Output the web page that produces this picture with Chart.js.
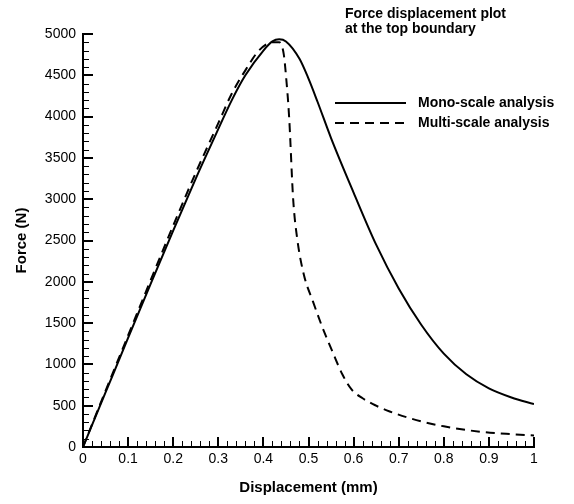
<!DOCTYPE html>
<html>
<head>
<meta charset="utf-8">
<script src="https://cdn.jsdelivr.net/npm/chart.js@4.4.0/dist/chart.umd.min.js"></script>
<style>
  html, body { margin: 0; padding: 0; background: #fff; }
  #wrap { width: 574px; height: 504px; }
</style>
</head>
<body>
<div id="wrap"><canvas id="chart" width="574" height="504"></canvas></div>
<script>
// values
const monoDisp  = [0, 0.05, 0.1, 0.15, 0.2, 0.25, 0.29, 0.33, 0.36, 0.4, 0.42, 0.435, 0.45, 0.48, 0.5, 0.52, 0.55, 0.6, 0.65, 0.7, 0.75, 0.8, 0.85, 0.9, 0.95, 1.0];
const monoForce = [0, 660, 1320, 1975, 2620, 3250, 3730, 4200, 4500, 4800, 4910, 4935, 4910, 4700, 4460, 4180, 3740, 3080, 2450, 1920, 1480, 1130, 880, 710, 600, 520];

const multiDisp  = [0, 0.05, 0.1, 0.15, 0.2, 0.25, 0.3, 0.33, 0.36, 0.39, 0.42, 0.435, 0.445, 0.45, 0.457, 0.466, 0.475, 0.49, 0.51, 0.53, 0.555, 0.575, 0.595, 0.62, 0.65, 0.68, 0.75, 0.8, 0.88, 0.95, 1.0];
const multiForce = [0, 680, 1350, 2020, 2680, 3320, 3920, 4280, 4560, 4800, 4900, 4900, 4760, 4500, 4000, 3000, 2520, 2080, 1760, 1460, 1130, 880, 700, 590, 500, 430, 310, 250, 185, 155, 140];

const seriesNames = ['Mono-scale analysis', 'Multi-scale analysis'];
const titleLines = ['Force displacement plot', 'at the top boundary'];
const xTitle = 'Displacement (mm)';
const yTitle = 'Force (N)';
const xMin = 0, xMax = 1, xStep = 0.1, xMinor = 0.02;
const yMin = 0, yMax = 5000, yStep = 500, yMinor = 100;

const FONT = 'Arial, "Liberation Sans", Helvetica, sans-serif';

function toPoints(xs, ys) {
  return xs.map((x, i) => ({ x: x, y: ys[i] }));
}

// ticks pointing into the plot, major + minor
const innerTicks = {
  id: 'innerTicks',
  afterDatasetsDraw(chart) {
    const { ctx, chartArea: a, scales: { x, y } } = chart;
    ctx.save();
    ctx.strokeStyle = '#000';
    let n = Math.round((xMax - xMin) / xMinor);
    let every = Math.round(xStep / xMinor);
    for (let i = 0; i <= n; i++) {
      const major = i % every === 0;
      const px = Math.round(x.getPixelForValue(xMin + i * xMinor)) + (major ? 0 : 0.5);
      ctx.lineWidth = major ? 2 : 1;
      ctx.beginPath();
      ctx.moveTo(px, a.bottom);
      ctx.lineTo(px, a.bottom - (major ? 10 : 6));
      ctx.stroke();
    }
    n = Math.round((yMax - yMin) / yMinor);
    every = Math.round(yStep / yMinor);
    for (let i = 0; i <= n; i++) {
      const major = i % every === 0;
      const py = Math.round(y.getPixelForValue(yMin + i * yMinor)) + (major ? 0 : 0.5);
      ctx.lineWidth = major ? 2 : 1;
      ctx.beginPath();
      ctx.moveTo(a.left, py);
      ctx.lineTo(a.left + (major ? 10 : 6), py);
      ctx.stroke();
    }
    ctx.restore();
  }
};

// title text and line legend in the upper right corner
const cornerText = {
  id: 'cornerText',
  afterDraw(chart) {
    const ctx = chart.ctx;
    ctx.save();
    ctx.fillStyle = '#000';
    ctx.textBaseline = 'middle';
    ctx.textAlign = 'left';
    ctx.font = 'bold 14px ' + FONT;
    ctx.fillText(titleLines[0], 345, 14);
    ctx.fillText(titleLines[1], 345, 29);

    chart.data.datasets.forEach((ds, i) => {
      const yy = 103 + i * 20;
      ctx.strokeStyle = ds.borderColor;
      ctx.lineWidth = ds.borderWidth;
      ctx.setLineDash(ds.borderDash || []);
      ctx.beginPath();
      ctx.moveTo(335, yy);
      ctx.lineTo(406, yy);
      ctx.stroke();
      ctx.setLineDash([]);
      ctx.font = 'bold 14px ' + FONT;
      ctx.fillText(ds.label, 418, yy);
    });
    ctx.restore();
  }
};

const ctx = document.getElementById('chart');
const chart = new Chart(ctx, {
  type: 'line',
  data: {
    datasets: [
      {
        label: seriesNames[0],
        data: toPoints(monoDisp, monoForce),
        borderColor: '#000',
        borderWidth: 2,
        pointRadius: 0,
        fill: false,
        cubicInterpolationMode: 'monotone'
      },
      {
        label: seriesNames[1],
        data: toPoints(multiDisp, multiForce),
        borderColor: '#000',
        borderWidth: 2,
        borderDash: [9, 6],
        pointRadius: 0,
        fill: false,
        cubicInterpolationMode: 'monotone'
      }
    ]
  },
  options: {
    responsive: false,
    animation: false,
    devicePixelRatio: 1,
    layout: { padding: { top: 34, right: 40, left: 0, bottom: 0 } },
    plugins: {
      legend: { display: false },
      tooltip: { enabled: false },
      title: { display: false }
    },
    scales: {
      x: {
        type: 'linear',
        min: xMin,
        max: xMax,
        afterFit: (s) => { s.height = 57; },
        grid: { display: false, drawTicks: false },
        border: { display: true, color: '#000', width: 2 },
        ticks: {
          stepSize: xStep,
          padding: 4,
          color: '#000',
          maxRotation: 0,
          autoSkip: false,
          font: { family: FONT, size: 14 },
          callback: (v) => String(Number(v.toFixed(1)))
        },
        title: {
          display: true,
          text: xTitle,
          color: '#000',
          padding: { top: 0, bottom: 7 },
          font: { family: FONT, size: 15, weight: 'bold' }
        }
      },
      y: {
        type: 'linear',
        min: yMin,
        max: yMax,
        afterFit: (s) => { s.width = 83; },
        grid: { display: false, drawTicks: false },
        border: { display: true, color: '#000', width: 2 },
        ticks: {
          stepSize: yStep,
          padding: 7,
          color: '#000',
          autoSkip: false,
          font: { family: FONT, size: 14 },
          callback: (v) => String(Math.round(v))
        },
        title: {
          display: true,
          text: yTitle,
          color: '#000',
          padding: { top: 13, bottom: 0 },
          font: { family: FONT, size: 15, weight: 'bold' }
        }
      }
    }
  },
  plugins: [innerTicks, cornerText]
});
</script>
</body>
</html>
